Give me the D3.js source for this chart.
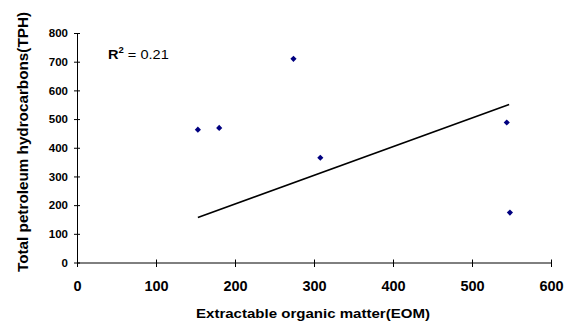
<!DOCTYPE html>
<html>
<head>
<meta charset="utf-8">
<script src="https://cdn.jsdelivr.net/npm/d3@7"></script>
<style>
  body { margin: 0; background: #fff; }
  svg text { font-family: "Liberation Sans", Arial, sans-serif; }
</style>
</head>
<body>
<figure id="chart" style="margin:0"></figure>
<script>
// data
const eom = [153, 180, 274, 308, 544, 548];
const tph = [463, 469, 710, 365, 488, 174];
// trendline as drawn (end points)
const trendX = [153, 547];
const trendY = [157, 551];
const xTicks = [0, 100, 200, 300, 400, 500, 600];
const yTicks = [0, 100, 200, 300, 400, 500, 600, 700, 800];
const r2Label = "0.21";

// set the dimensions and margins of the graph
const margin = {top: 33, right: 14, bottom: 62, left: 77},
  width = 565 - margin.left - margin.right,
  height = 325 - margin.top - margin.bottom;

const svg = d3.select("figure#chart")
  .append("svg")
  .attr("width", 565)
  .attr("height", 325)
  .append("g")
  .attr("transform", "translate(" + margin.left + "," + margin.top + ")");

const x = d3.scaleLinear().domain([0, 600]).range([0, 474]);
const y = d3.scaleLinear().domain([0, 800]).range([229.5, 0]);
const h = y(0);

// X axis
const gx = svg.append("g")
  .attr("transform", `translate(0, ${h})`)
  .call(d3.axisBottom(x).tickValues(xTicks).tickSize(0));
gx.select(".domain").attr("stroke", "#000");
gx.selectAll(".tick line").remove();
gx.selectAll(".tick").append("line")
  .attr("y1", -3).attr("y2", 4.5).attr("stroke", "#000");
gx.selectAll(".tick text")
  .attr("font-size", 14.5).attr("font-weight", "bold").attr("fill", "#000")
  .attr("y", 28.5).attr("dy", 0);

// Y axis
const gy = svg.append("g")
  .call(d3.axisLeft(y).tickValues(yTicks).tickSize(0).tickPadding(9));
gy.select(".domain").attr("stroke", "#000");
gy.selectAll(".tick line").remove();
gy.selectAll(".tick").append("line")
  .attr("x1", -3).attr("x2", 3).attr("stroke", "#000");
gy.selectAll(".tick text")
  .attr("font-size", 11.5).attr("font-weight", "bold").attr("fill", "#000");

// axis titles
svg.append("text")
  .attr("x", 313 - margin.left).attr("y", 318 - margin.top)
  .attr("text-anchor", "middle")
  .attr("font-size", 13.5).attr("font-weight", "bold")
  .attr("textLength", 234).attr("lengthAdjust", "spacingAndGlyphs")
  .text("Extractable organic matter(EOM)");

svg.append("text")
  .attr("transform", `translate(${27.5 - margin.left}, ${142 - margin.top}) rotate(-90)`)
  .attr("text-anchor", "middle")
  .attr("font-size", 14).attr("font-weight", "bold")
  .attr("textLength", 260).attr("lengthAdjust", "spacingAndGlyphs")
  .text("Total petroleum hydrocarbons(TPH)");

// trendline
svg.append("path")
  .datum(d3.zip(trendX, trendY))
  .attr("d", d3.line().x(d => x(d[0])).y(d => y(d[1])))
  .attr("stroke", "#000")
  .attr("stroke-width", 1.6)
  .attr("fill", "none");

// points (diamonds = rotated squares)
svg.append("g")
  .selectAll("path")
  .data(d3.zip(eom, tph))
  .join("path")
  .attr("transform", d => `translate(${x(d[0])},${y(d[1])}) rotate(45)`)
  .attr("d", d3.symbol(d3.symbolSquare, 19))
  .attr("fill", "#000080");

// R^2 label
const r2 = svg.append("text")
  .attr("transform", `translate(${108 - margin.left}, ${59 - margin.top}) scale(1.12,1)`)
  .attr("font-size", 13);
r2.append("tspan").attr("font-weight", "bold").text("R");
r2.append("tspan").attr("font-weight", "bold").attr("font-size", 8.5)
  .attr("dy", -6).text("2");
r2.append("tspan").attr("dy", 6).text(" = " + r2Label);
</script>
</body>
</html>
